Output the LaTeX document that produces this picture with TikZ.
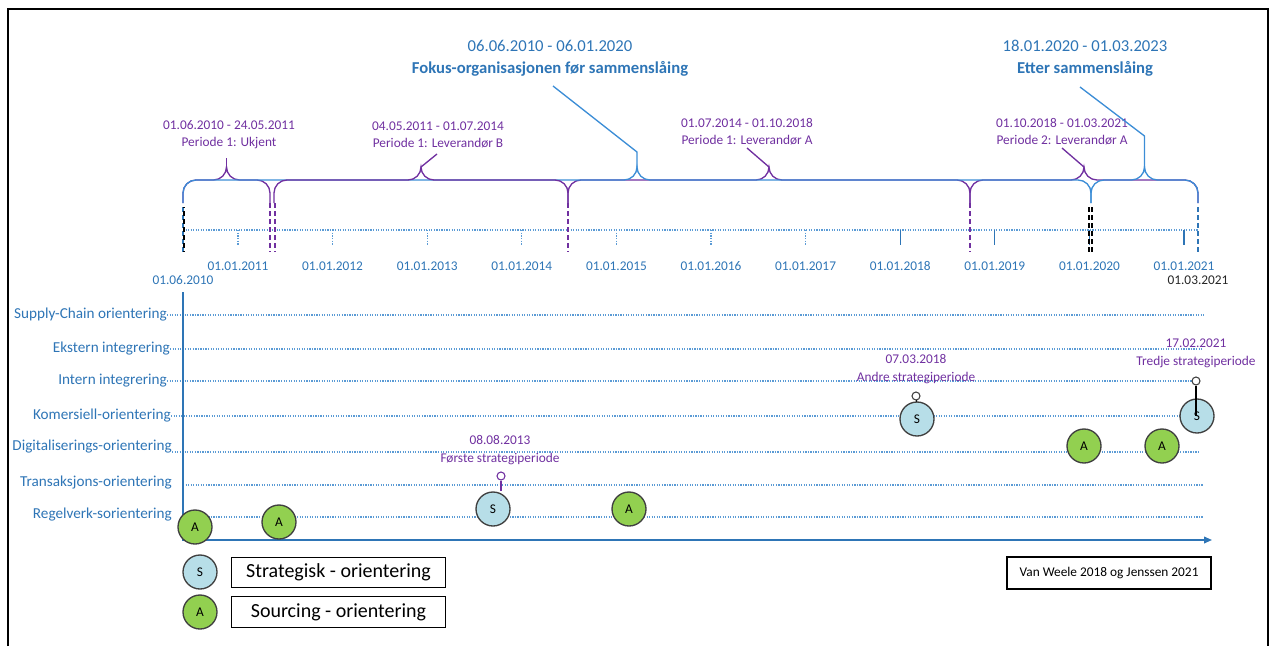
\documentclass[tikz,border=0pt]{standalone}
\usepackage{fontspec}
\setmainfont{Carlito}
\usetikzlibrary{arrows.meta}
\definecolor{tblue}{HTML}{2E75B6}
\definecolor{lblue}{HTML}{3C8DD6}
\definecolor{dblue}{HTML}{5B9BD5}
\definecolor{ppl}{HTML}{7030A0}
\definecolor{sfill}{HTML}{B7DEE8}
\definecolor{afill}{HTML}{92D050}
\definecolor{cborder}{HTML}{404040}
\newcommand{\tlbrace}[4]{%
 \pgfmathsetmacro\brm{(#1+#2)/2}%
 \draw[#3,line width=1pt] (#1,{180+#4}) -- (#1,193) .. controls (#1,{193-7.2}) and ({#1+13-7.2},180) .. ({#1+13},180)
  -- ({\brm-13},180) .. controls ({\brm-13+7.2},180) and (\brm,{167+7.2}) .. (\brm,167)
  .. controls (\brm,{167+7.2}) and ({\brm+13-7.2},180) .. ({\brm+13},180)
  -- ({#2-13},180) .. controls ({#2-13+7.2},180) and (#2,{193-7.2}) .. (#2,193) -- (#2,{180+#4});
}
\tikzset{
 plabel/.style={text=ppl,font=\fontsize{10}{12.75}\selectfont,align=center,inner sep=0pt},
 hlabel/.style={text=tblue,font=\fontsize{12.5}{16.5}\selectfont,align=center,inner sep=0pt},
 ylabel/.style={text=tblue,font=\fontsize{10}{12}\selectfont,inner sep=0pt},
 clabel/.style={text=tblue,font=\fontsize{11.4}{13}\selectfont,inner sep=0pt,anchor=east},
 catline/.style={dblue,line width=0.9pt,densely dotted},
 mk/.style={circle,draw=cborder,line width=1pt,minimum size=25.5pt,inner sep=0pt,font=\fontsize{10}{12}\selectfont},
 smk/.style={mk,fill=sfill},
 amk/.style={mk,fill=afill},
 pin/.style={circle,draw,fill=white,line width=0.8pt,minimum size=6pt,inner sep=0pt},
 legbox/.style={draw=black,line width=0.8pt,minimum width=161pt,minimum height=23pt,inner sep=0pt,font=\fontsize{15}{18}\selectfont},
 vdash/.style={line width=1pt,dashed,dash pattern=on 4pt off 2pt},
}
\begin{document}
\begin{tikzpicture}[x=0.75pt,y=-0.75pt]
\useasboundingbox (0,0) rectangle (1270,646);
% frame
\draw[line width=2.2pt] (8,646) -- (8,9) -- (1268,9) -- (1268,646);

% headers
\node[hlabel] (hF) at (550,58) {06.06.2010 - 06.01.2020\\\textbf{Fokus-organisasjonen før sammenslåing}};
\node[hlabel] (hE) at (1085,58) {18.01.2020 - 01.03.2023\\\textbf{Etter sammenslåing}};

% purple labels
\node[plabel] (pU) at (229,135) {01.06.2010 - 24.05.2011\\Periode 1: Ukjent};
\node[plabel] (pB) at (438,135) {04.05.2011 - 01.07.2014\\Periode 1: Leverandør B};
\node[plabel] (pA) at (747,132) {01.07.2014 - 01.10.2018\\Periode 1: Leverandør A};
\node[plabel] (p2) at (1062,132) {01.10.2018 - 01.03.2021\\Periode 2: Leverandør A};

% braces
\tlbrace{568}{970}{ppl}{23}
\tlbrace{970}{1198}{ppl}{23}
\tlbrace{183}{270}{ppl}{23}
\tlbrace{183}{1091}{lblue}{23}
\tlbrace{1091}{1198}{lblue}{23}
\tlbrace{274}{568}{ppl}{23}

% leaders
\coordinate (uT) at (226.5,167); \coordinate (uS) at (226.5,158);
\draw[ppl,line width=1pt] (uT) -- (uS);
\coordinate (bT) at (421,167); \coordinate (bE) at (437,154);
\draw[ppl,line width=1pt] (bT) -- (bE);
\coordinate (aT) at (769,167); \coordinate (aE) at (747,148);
\draw[ppl,line width=1pt] (aT) -- (aE);
\coordinate (qT) at (1084,167); \coordinate (qE) at (1062,148);
\draw[ppl,line width=1pt] (qT) -- (qE);
\coordinate (fT) at (637,167); \coordinate (fS) at (637,152); \coordinate (fE) at (553,86);
\draw[lblue,line width=1pt] (fT) -- (fS) -- (fE);
\coordinate (eT) at (1144.5,167); \coordinate (eS) at (1144.5,136); \coordinate (eE) at (1080,87);
\draw[lblue,line width=1pt] (eT) -- (eS) -- (eE);

% time axis
\coordinate (t0) at (183,230); \coordinate (t1) at (1198,230);
\draw[dblue,line width=0.9pt,densely dotted] (t0) -- (t1);
\foreach \yr in {2011,...,2021}{
  \pgfmathsetmacro\xx{238+(\yr-2011)*94.6}
  \ifnum\yr<2018
    \draw[dblue,line width=1pt,densely dotted] (\xx,230) -- (\xx,245);
  \else
    \draw[tblue,line width=1pt] (\xx,230) -- (\xx,245);
  \fi
  \node[ylabel] (y\yr) at (\xx,266) {01.01.\yr};
}
% dashed markers
\draw[tblue,vdash] (183,207) -- (183,252);
\draw[black,vdash,dash phase=3pt] (184,207) -- (184,252);
\draw[ppl,vdash] (270,203) -- (270,252);
\draw[ppl,vdash] (275,203) -- (275,252);
\draw[ppl,vdash] (568,203) -- (568,252);
\draw[ppl,vdash] (970,203) -- (970,252);
\draw[black,vdash] (1089,207) -- (1089,252);
\draw[black,vdash] (1092,207) -- (1092,252);
\draw[tblue,vdash] (1198,207) -- (1198,252);
\node[ylabel] (d0) at (183,280) {01.06.2010};
\node[inner sep=0pt,font=\fontsize{10}{12}\selectfont,text=black!85] (d1) at (1198,280) {01.03.2021};

% category lines and labels
\node[clabel] (c1) at (167,315) {Supply-Chain orientering};
\node[clabel] (c2) at (170,349) {Ekstern integrering};
\node[clabel] (c3) at (167,381) {Intern integrering};
\node[clabel] (c4) at (171,416) {Komersiell-orientering};
\node[clabel] (c5) at (172,447) {Digitaliserings-orientering};
\node[clabel] (c6) at (172,483) {Transaksjons-orientering};
\node[clabel] (c7) at (172,515) {Regelverk-sorientering};
\coordinate (e1) at (1205,315); \coordinate (e2) at (1203,349); \coordinate (e3) at (1192,381);
\coordinate (e4) at (1200,416); \coordinate (e5) at (1200,452); \coordinate (e6) at (1203,485); \coordinate (e7) at (1203,517);
\draw[catline] (c1.east) -- (e1);
\draw[catline] (c2.east) -- (e2);
\draw[catline] (c3.east) -- (e3);
\draw[catline] (c4.east) -- (e4);
\draw[catline] (c5.east |- e5) -- (e5);
\draw[catline] (183,485) -- (e6);
\draw[catline] (183,517) -- (e7);

% axes
\coordinate (ax0) at (183,292); \coordinate (axO) at (183,540); \coordinate (ax1) at (1212,540);
\draw[tblue,line width=1.2pt,-{Triangle[length=6pt,width=5pt]}] (ax0) -- (axO) -- (ax1);

% markers
\node[amk] (a1) at (195,527) {A};
\node[amk] (a2) at (279,522) {A};
\node[smk] (s1) at (493,509) {S};
\node[amk] (a3) at (629,509) {A};
\node[smk] (s2) at (917,419) {S};
\node[amk] (a4) at (1084,446) {A};
\node[amk] (a5) at (1162,446) {A};
\node[smk] (s3) at (1197,416) {S};

\node[pin,draw=ppl] (q1) at (501,476) {};
\draw[ppl,line width=1pt] (q1.south) -- (q1.south |- s1.north);
\node[pin,draw=cborder] (q2) at (916,396) {};
\draw[black,line width=1pt] (q2.south) -- (s2.north);
\node[pin,draw=cborder] (q3) at (1196,381) {};
\draw[black,line width=1pt] (q3.south) -- (q3.south |- s3.center);

\node[plabel,font=\fontsize{10}{14}\selectfont] (l1) at (500,450) {08.08.2013\\Første strategiperiode};
\node[plabel,font=\fontsize{10}{13.5}\selectfont] (l2) at (916,369) {07.03.2018\\Andre strategiperiode};
\node[plabel,font=\fontsize{10}{13.5}\selectfont] (l3) at (1196,353) {17.02.2021\\Tredje strategiperiode};

% legend
\node[smk] (ls) at (200,572) {S};
\node[amk] (la) at (200,612) {A};
\node[legbox] (lbs) at (338.5,572.5) {Strategisk - orientering};
\node[legbox] (lba) at (338.5,612) {Sourcing - orientering};
\node[draw=black,line width=0.8pt,minimum width=153pt,minimum height=24pt,inner sep=0pt,font=\fontsize{10}{12}\selectfont] (src) at (1109,573) {Van Weele 2018 og Jenssen 2021};
\end{tikzpicture}
\end{document}
